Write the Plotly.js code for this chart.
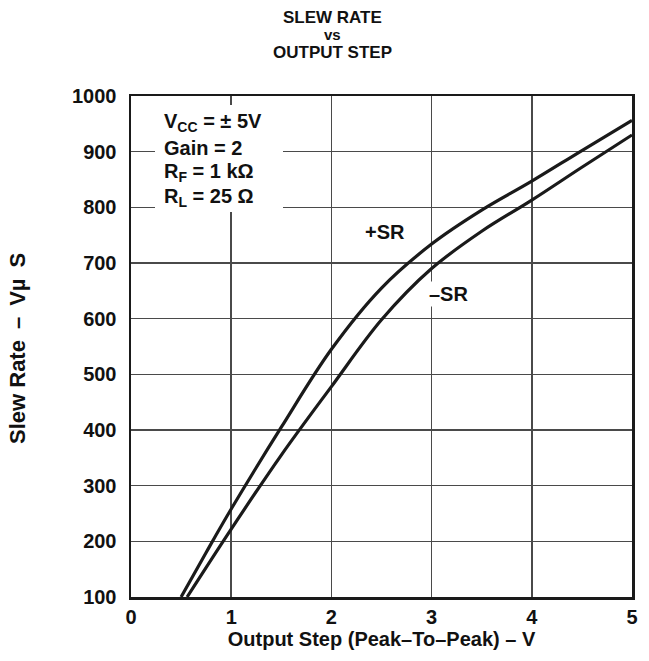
<!DOCTYPE html>
<html>
<head>
<meta charset="utf-8">
<script src="https://cdn.plot.ly/plotly-3.0.1.min.js"></script>
<style>html,body{margin:0;padding:0;background:#fff;}#chart{width:649px;height:661px;}</style>
</head>
<body>
<div id="chart"></div>
<script>
// Output step (V p-p) and slew rate (V/µs)
const posSR_x = [0.50, 0.75, 1.00, 1.50, 2.00, 2.50, 3.00, 3.50, 4.00, 4.50, 5.00];
const posSR_y = [100, 180, 258, 405, 545, 655, 734, 795, 847, 902, 956];
const negSR_x = [0.56, 1.00, 1.50, 2.00, 2.50, 3.00, 3.50, 4.00, 4.50, 5.00];
const negSR_y = [100, 222, 355, 478, 598, 690, 757, 813, 872, 930];
const xTicks = [0, 1, 2, 3, 4, 5];
const yTicks = [100, 200, 300, 400, 500, 600, 700, 800, 900, 1000];
const titleLines = ['SLEW RATE', 'vs', 'OUTPUT STEP'];
const condLines = ['V<sub>CC</sub> = ± 5V', 'Gain = 2', 'R<sub>F</sub> = 1 kΩ', 'R<sub>L</sub> = 25 Ω'];

const FONT = 'Liberation Sans, Arial, Helvetica, sans-serif';
const lineStyle = {color: '#1a1a1a', width: 3.2, shape: 'spline', smoothing: 1};

const traces = [
  {x: posSR_x, y: posSR_y, mode: 'lines', line: lineStyle, name: '+SR', hoverinfo: 'x+y'},
  {x: negSR_x, y: negSR_y, mode: 'lines', line: lineStyle, name: '-SR', hoverinfo: 'x+y'}
];

const L = 131, R = 17, T = 96, B = 64, W = 649, H = 661;
const pw = W - L - R, ph = H - T - B;
const px = v => (v - L) / pw;       // page px -> paper x
const py = v => (H - B - v) / ph;   // page px -> paper y

const annotations = [];
const titleY = [17, 35, 53];
const titleSize = [17, 15, 17];
titleLines.forEach((t, i) => annotations.push({
  text: t, xref: 'paper', yref: 'paper', x: px(332), y: py(titleY[i]),
  xanchor: 'center', yanchor: 'middle', showarrow: false,
  font: {family: FONT, size: titleSize[i], color: '#111', weight: 'bold'}
}));
const condY = [123, 148, 173, 197];
condLines.forEach((t, i) => annotations.push({
  text: t, xref: 'paper', yref: 'paper', x: px(162), y: py(condY[i]),
  xanchor: 'left', yanchor: 'middle', showarrow: false,
  font: {family: FONT, size: 20, color: '#111', weight: 'bold'}
}));
annotations.push({text: '+SR', xref: 'x', yref: 'y', x: 2.53, y: 756, xanchor: 'center', yanchor: 'middle',
  showarrow: false, font: {family: FONT, size: 20, color: '#111', weight: 'bold'}});
annotations.push({text: '–SR', xref: 'x', yref: 'y', x: 3.17, y: 645, xanchor: 'center', yanchor: 'middle',
  showarrow: false, bgcolor: '#fff', font: {family: FONT, size: 20, color: '#111', weight: 'bold'}});
// y-axis title placed as rotated annotation for exact placement
annotations.push({text: 'Slew Rate\u2002–\u2002Vµ\u2002S', xref: 'paper', yref: 'paper', x: px(17), y: py(349),
  xanchor: 'center', yanchor: 'middle', textangle: -90, showarrow: false,
  font: {family: FONT, size: 22, color: '#111', weight: 'bold'}});

const layout = {
  width: W, height: H,
  margin: {l: L, r: R, t: T, b: B},
  paper_bgcolor: '#fff', plot_bgcolor: '#fff',
  showlegend: false,
  font: {family: FONT, color: '#111', weight: 'bold'},
  xaxis: {
    range: [0, 5], tickvals: xTicks, ticktext: xTicks.map(String),
    showgrid: true, gridcolor: '#4a4a4a', gridwidth: 1.5, zeroline: false,
    showline: true, linecolor: '#1a1a1a', linewidth: 2.5, mirror: true,
    ticks: '', tickfont: {family: FONT, size: 20, weight: 'bold', color: '#111'},
    title: {text: 'Output Step (Peak–To–Peak) – V', standoff: 4,
      font: {family: FONT, size: 20, weight: 'bold', color: '#111'}}
  },
  yaxis: {
    range: [100, 1000], tickvals: yTicks, ticktext: yTicks.map(String),
    showgrid: true, gridcolor: '#4a4a4a', gridwidth: 1.5, zeroline: false,
    showline: true, linecolor: '#1a1a1a', linewidth: 2.5, mirror: true,
    ticks: '', ticklabelstandoff: 8,
    tickfont: {family: FONT, size: 20, weight: 'bold', color: '#111'}
  },
  shapes: [{type: 'rect', xref: 'paper', yref: 'paper', x0: px(155), x1: px(283), y0: py(212), y1: py(105),
    fillcolor: '#fff', line: {width: 0}, layer: 'above'}],
  annotations: annotations
};

Plotly.newPlot('chart', traces, layout, {displayModeBar: false, staticPlot: true});
</script>
</body>
</html>
